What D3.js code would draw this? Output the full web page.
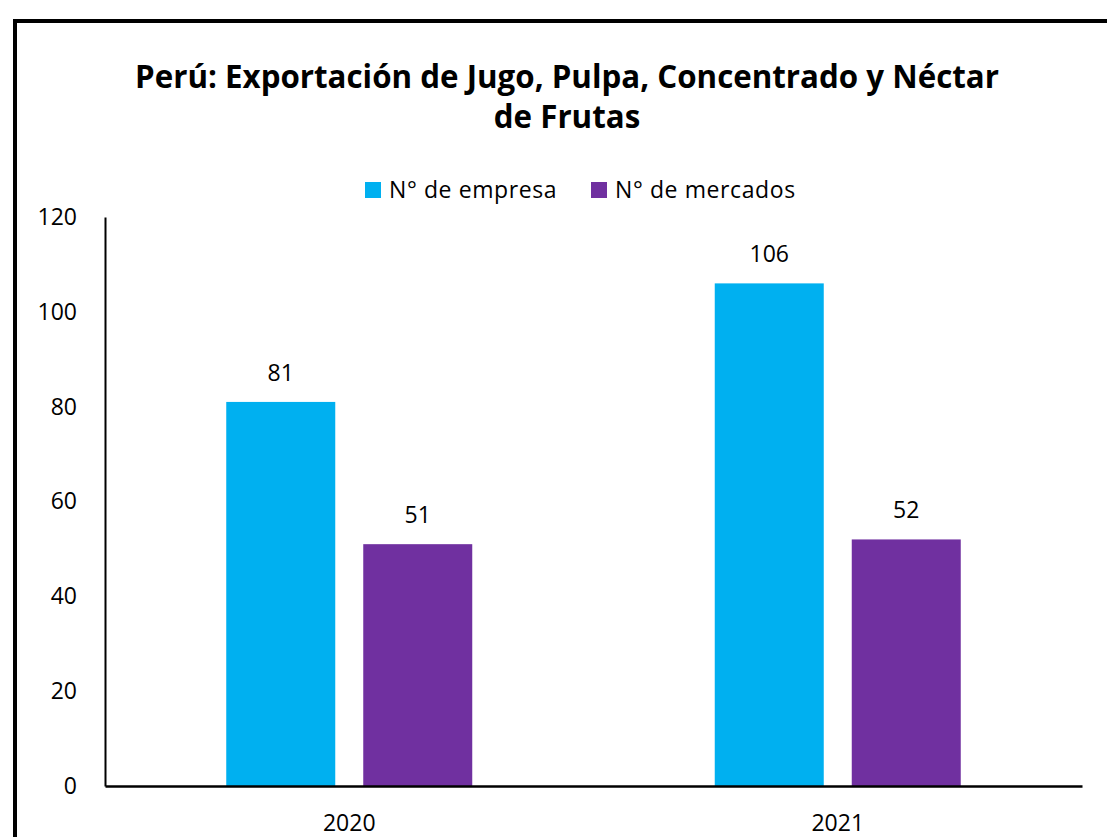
<!DOCTYPE html>
<html>
  <head>
    <title>Perú: Exportación de Jugo, Pulpa, Concentrado y Néctar de Frutas</title>
    <style>
      body { margin: 0; background: #fff; }
      text { font-family: "Open Sans", sans-serif; fill: #000; }
    </style>
  </head>
  <body>
    <script src="https://d3js.org/d3.v7.min.js"></script>
    <script>
      var w = 1107;
      var h = 837;

      // data
      var years = ["2020", "2021"];
      var series = ["N° de empresa", "N° de mercados"];
      var empresas = [81, 106];
      var mercados = [51, 52];
      var yTicks = [0, 20, 40, 60, 80, 100, 120];
      var colors = ["#00B0F0", "#7030A0"];
      var titleLines = ["Perú: Exportación de Jugo, Pulpa, Concentrado y Néctar", "de Frutas"];

      var svg = d3.select('body').append('svg').attr('width', w).attr('height', h);

      // outer chart border (runs off the right and bottom edge like the picture)
      svg.append('rect')
        .attr('x', 15).attr('y', 21)
        .attr('width', w + 20).attr('height', h + 20)
        .attr('fill', 'none').attr('stroke', '#000').attr('stroke-width', 4);

      var plotL = 105, plotR = 1082, plotT = 217, plotB = 786;

      var x = d3.scaleBand().domain(years).range([plotL, plotR]);
      var inner = d3.scaleBand().domain(series).range([0, 137 + 109]).paddingInner(28 / 137);
      var y = d3.scaleLinear().domain([0, 120]).range([plotB, plotT]);

      // title
      svg.append('text')
        .attr('text-anchor', 'middle')
        .style('font-weight', 'bold').style('font-size', '31.3px')
        .selectAll('tspan').data(titleLines).enter().append('tspan')
        .attr('x', 567)
        .attr('y', function(d, i) { return 88 + i * 40; })
        .text(function(d) { return d; });

      // bars
      var rows = years.map(function(yr, i) {
        return { year: yr, values: [empresas[i], mercados[i]] };
      });
      var groups = svg.selectAll('g.year').data(rows).enter().append('g')
        .attr('class', 'year')
        .attr('transform', function(d) {
          return 'translate(' + (x(d.year) + x.bandwidth() / 2 - 123) + ',0)';
        });

      groups.selectAll('rect').data(function(d) { return d.values; }).enter().append('rect')
        .attr('x', function(d, i) { return inner(series[i]); })
        .attr('width', inner.bandwidth())
        .attr('y', function(d) { return y(d); })
        .attr('height', function(d) { return plotB - y(d); })
        .attr('fill', function(d, i) { return colors[i]; });

      groups.selectAll('text.lbl').data(function(d) { return d.values; }).enter().append('text')
        .attr('class', 'lbl')
        .attr('text-anchor', 'middle')
        .style('font-size', '23px')
        .attr('x', function(d, i) { return inner(series[i]) + inner.bandwidth() / 2; })
        .attr('y', function(d) { return y(d) - 21; })
        .text(function(d) { return d; });

      // y axis
      var yAxis = svg.append('g')
        .attr('transform', 'translate(' + plotL + ',0)')
        .call(d3.axisLeft(y).tickValues(yTicks).tickSize(0).tickPadding(28));
      yAxis.select('.domain').attr('stroke', '#000').attr('stroke-width', 2);
      yAxis.selectAll('text').style('font-size', '23px').style('font-family', '"Open Sans", sans-serif');

      // x axis
      var xAxis = svg.append('g')
        .attr('transform', 'translate(0,' + plotB + ')')
        .call(d3.axisBottom(x).tickSize(0).tickPadding(29));
      xAxis.select('.domain').attr('stroke', '#000').attr('stroke-width', 2.5);
      xAxis.selectAll('text').style('font-size', '23px').style('font-family', '"Open Sans", sans-serif');

      // legend
      var legX = [365, 591];
      var leg = svg.selectAll('g.leg').data(series).enter().append('g')
        .attr('class', 'leg')
        .attr('transform', function(d, i) { return 'translate(' + legX[i] + ',182)'; });
      leg.append('rect').attr('width', 16).attr('height', 16)
        .attr('fill', function(d, i) { return colors[i]; });
      leg.append('text').attr('x', 24).attr('y', 16)
        .style('font-size', '23px').style('letter-spacing', '0.6px')
        .text(function(d) { return d; });
    </script>
  </body>
</html>
